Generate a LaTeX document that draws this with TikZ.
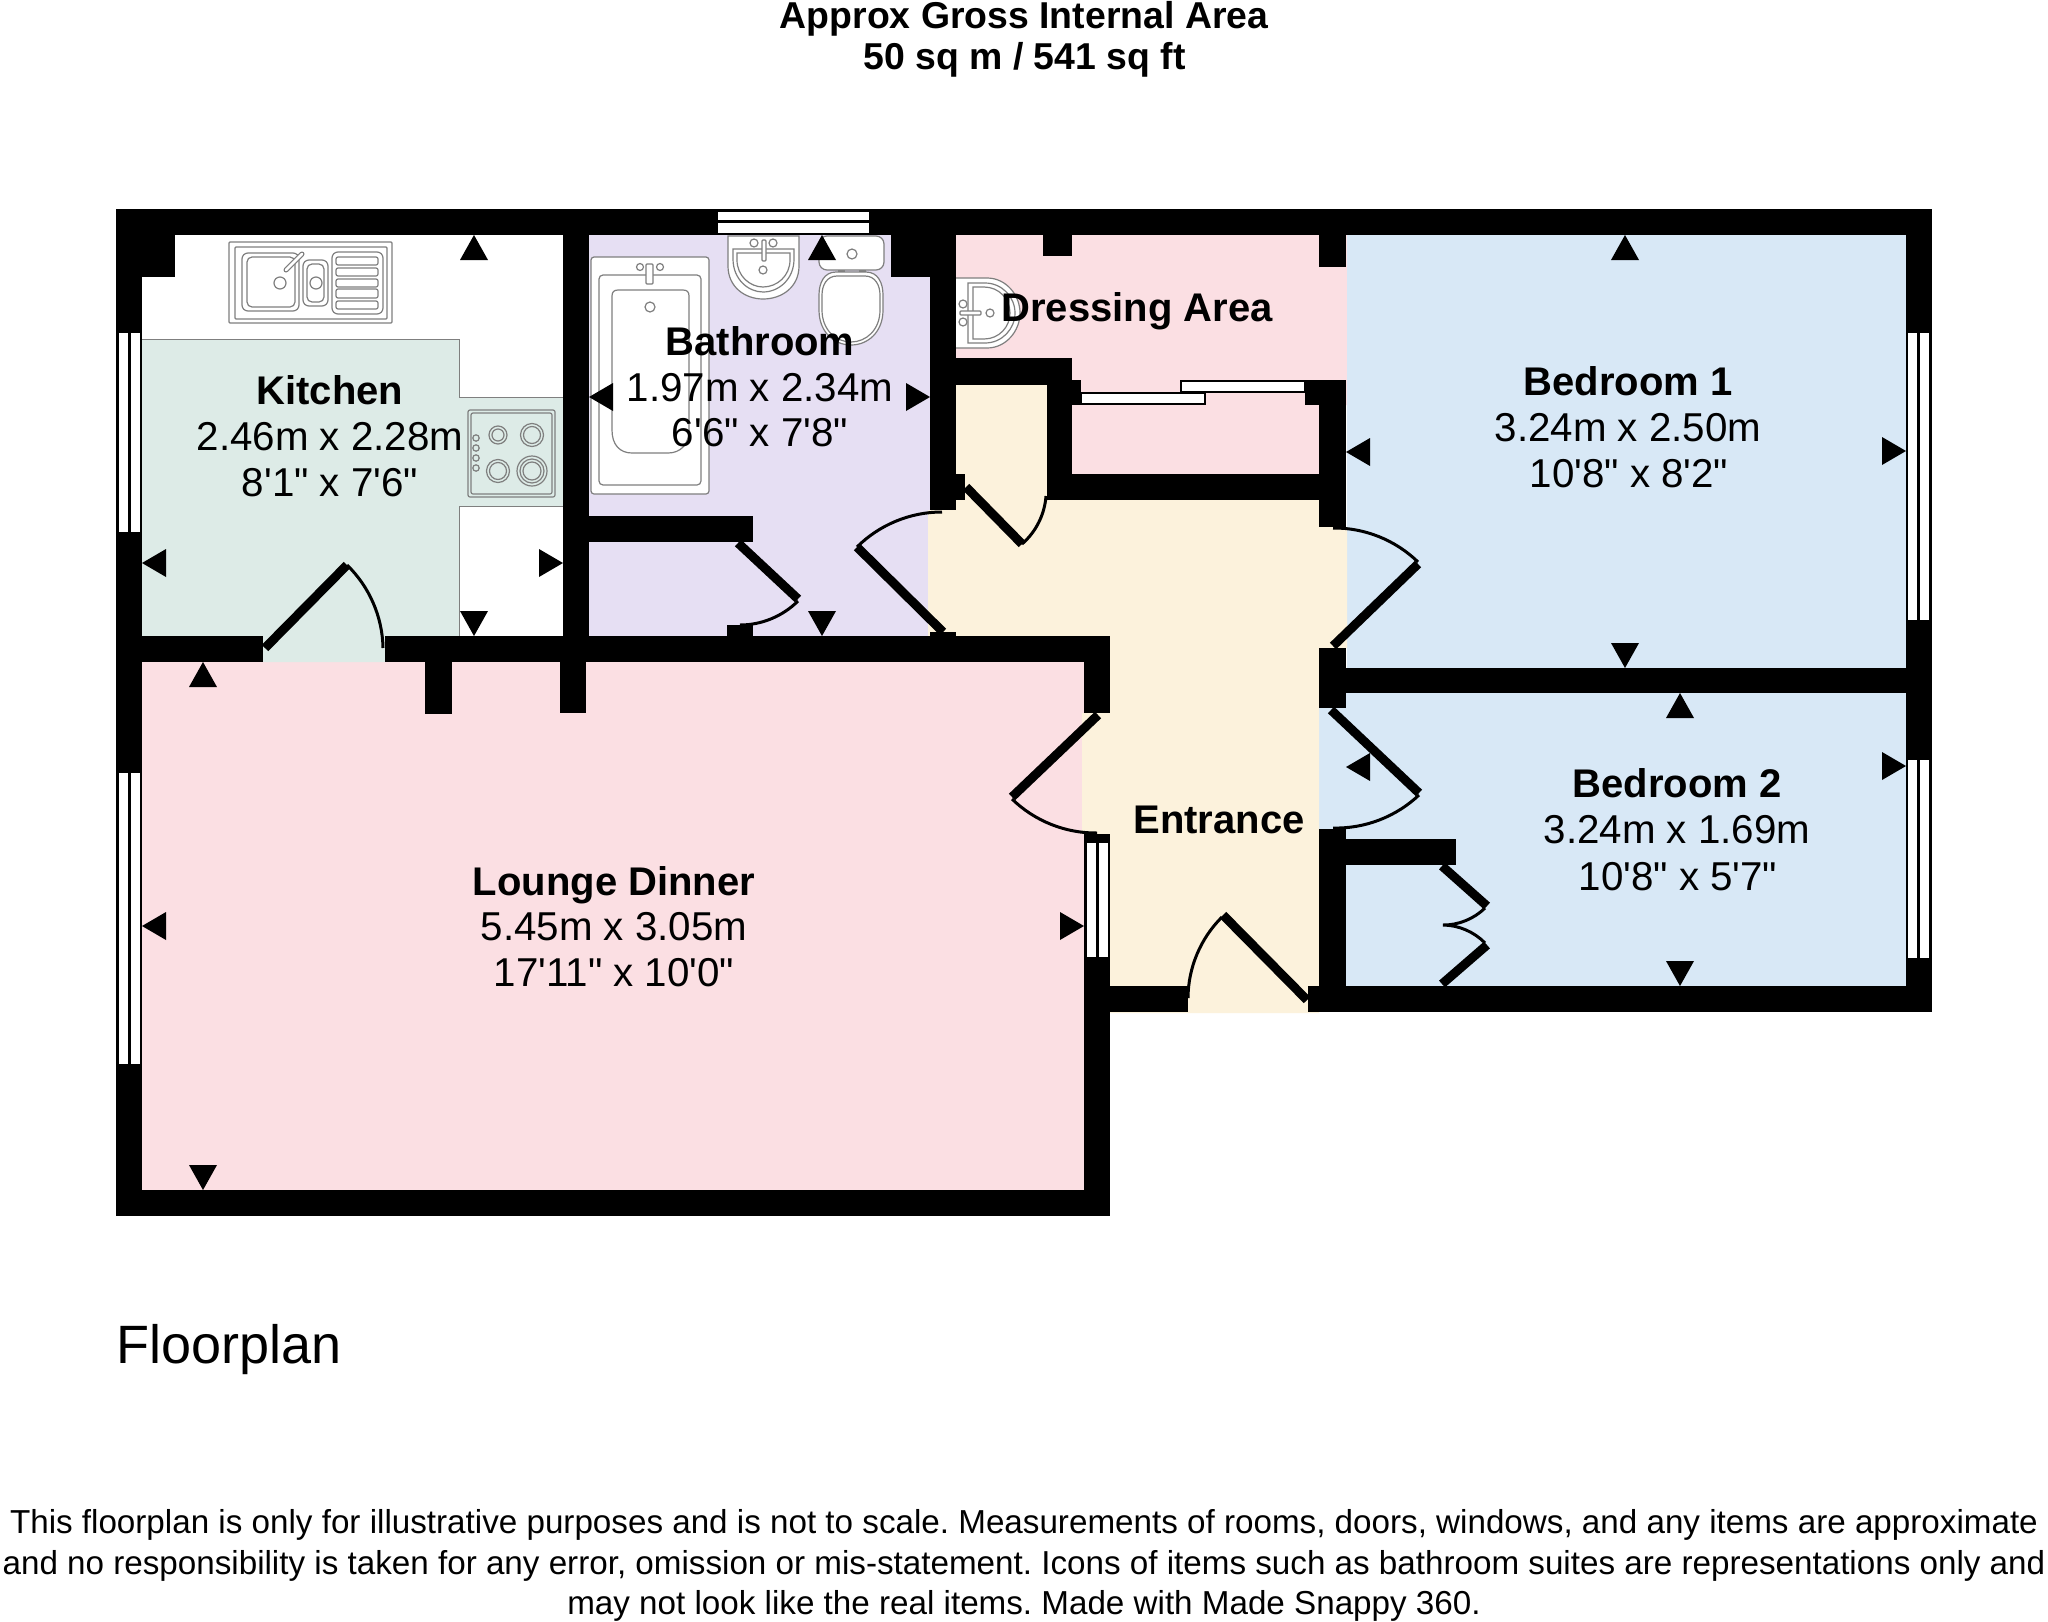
\documentclass[tikz,border=0pt]{standalone}
\usepackage{fontspec}
\newfontfamily\lib{Liberation Sans}[Ligatures=NoCommon]
\definecolor{pinkroom}{HTML}{FBDFE3}
\definecolor{greenroom}{HTML}{DDEBE7}
\definecolor{lilacroom}{HTML}{E6DFF3}
\definecolor{creamroom}{HTML}{FCF2DC}
\definecolor{blueroom}{HTML}{D8E8F6}
\definecolor{fixgray}{HTML}{7F7F7F}
\tikzset{
  plantext/.style={anchor=base,inner sep=0pt,font=\lib\fontsize{40.3}{46}\selectfont},
  roomname/.style={plantext,font=\lib\bfseries\fontsize{40}{46}\selectfont},
  titletext/.style={anchor=base,inner sep=0pt,font=\lib\bfseries\fontsize{37.4}{42}\selectfont},
  foottext/.style={anchor=base,inner sep=0pt,font=\lib\fontsize{33.2}{40}\selectfont},
  doorleaf/.style={line width=9pt,black,line cap=butt},
  doorswing/.style={line width=3pt,black},
  fixture/.style={draw=fixgray,line width=1.2pt,fill=white},
  fixline/.style={draw=fixgray,line width=1.2pt},
}
\newcommand{\arrU}[2]{\fill (#1,#2)--(#1+14,#2+25)--(#1-14,#2+25)--cycle;}
\newcommand{\arrD}[2]{\fill (#1,#2)--(#1+14,#2-25)--(#1-14,#2-25)--cycle;}
\newcommand{\arrL}[2]{\fill (#1,#2)--(#1+24,#2-14)--(#1+24,#2+14)--cycle;}
\newcommand{\arrR}[2]{\fill (#1,#2)--(#1-24,#2-14)--(#1-24,#2+14)--cycle;}
\begin{document}
\frenchspacing
\begin{tikzpicture}[x=1pt,y=-1pt]
\useasboundingbox (0,0) rectangle (2048,1622);
\fill[white] (0,0) rectangle (2048,1622);
% room floors
\fill[pinkroom] (142,662)--(1084,662)--(1084,713)--(1082,713)--(1082,834)--(1084,834)--(1084,1190)--(142,1190)--cycle;
\fill[greenroom] (142,339)--(459,339)--(459,397)--(563,397)--(563,506)--(459,506)--(459,636)--(385,636)--(385,662)--(263,662)--(263,636)--(142,636)--cycle;
\draw[fixgray,line width=1pt] (142,339)--(459,339)--(459,397)--(563,397) (563,506)--(459,506)--(459,636);
\fill[lilacroom] (589,235) rectangle (930,636);
\fill[pinkroom] (956,235)--(1347,235)--(1347,405)--(1319,405)--(1319,474)--(1072,474)--(1072,358)--(956,358)--cycle;
\fill[blueroom] (1347,235) rectangle (1906,668);
\fill[blueroom] (1319,708)--(1346,708)--(1346,693)--(1906,693)--(1906,986)--(1346,986)--(1346,829)--(1319,829)--cycle;
\fill[creamroom] (956,385)--(1047,385)--(1047,500)--(1319,500)--(1319,527)--(1347,527)--(1347,648)--(1319,648)--(1319,1013)--(1110,1013)--(1110,834)--(1082,834)--(1082,713)--(1110,713)--(1110,636)--(928,636)--(928,510)--(956,510)--cycle;
% walls
\foreach \a/\b/\c/\d in {116/209/1932/235, 116/209/142/1216, 116/235/175/277, 116/1190/1110/1216,
  1084/636/1110/713, 1084/834/1110/1216, 142/636/263/662, 385/636/1110/662, 425/662/452/714, 560/662/586/713,
  563/235/589/636, 589/516/753/542, 727/625/753/636, 930/632/956/636, 930/235/956/510, 891/235/930/277,
  956/474/965/500, 1043/235/1072/256, 1319/235/1346/267, 956/358/1072/385, 1047/358/1072/500, 1072/380/1081/405,
  1047/474/1346/500, 1305/380/1346/405, 1319/380/1346/527, 1319/648/1346/708, 1346/668/1932/693, 1319/829/1346/1012,
  1346/839/1456/865, 1308/986/1932/1012, 1110/986/1188/1012, 1906/209/1932/1012}
  {\fill[black] (\a,\b) rectangle (\c,\d);}
% windows
\foreach \a/\b/\c/\d in {119/333/128/532, 131/333/140/532, 119/773/128/1064, 131/773/140/1064,
  718/212/869/220, 718/223/869/233, 1087/843/1096/957, 1099/843/1108/957,
  1908/333/1917/620, 1920/333/1929/620, 1908/760/1917/958, 1920/760/1929/958}
  {\fill[white] (\a,\b) rectangle (\c,\d);}
% sliding wardrobe doors
\draw[black,fill=white,line width=1.5pt] (1081,393) rectangle (1205,404);
\draw[black,fill=white,line width=1.5pt] (1181,381) rectangle (1305,392);
% hinged doors
\coordinate (kp) at (265,648); \coordinate (kt) at (347,565); \coordinate (ke) at (383,648);
\draw[doorleaf] (kp)--(kt); \draw[doorswing] (kt) to[bend left=22.5,looseness=.88] (ke);
\coordinate (cp) at (738,543); \coordinate (ct) at (798,599); \coordinate (ce) at (740,625);
\draw[doorleaf] (cp)--(ct); \draw[doorswing] (798,601) to[bend left=22.5,looseness=.88] (ce);
\coordinate (bp) at (943,632); \coordinate (bt) at (857,547); \coordinate (be) at (942,512);
\draw[doorleaf] (bp)--(bt); \draw[doorswing] (bt) to[bend left=22.5,looseness=.88] (be);
\coordinate (sp) at (966,487); \coordinate (st) at (1022,544); \coordinate (se) at (1046,496);
\draw[doorleaf] (sp)--(st); \draw[doorswing] (st) to[bend right=22.5,looseness=.88] (se);
\coordinate (ap) at (1333,646); \coordinate (at) at (1418,564); \coordinate (ae) at (1333,528);
\draw[doorleaf] (ap)--(at); \draw[doorswing] (ae) to[bend left=22.5,looseness=.88] (1418,562);
\coordinate (dp) at (1331,710); \coordinate (dt) at (1419,793); \coordinate (de) at (1333,828);
\draw[doorleaf] (dp)--(dt); \draw[doorswing] (1419,795) to[bend left=22.5,looseness=.88] (de);
\coordinate (lp) at (1098,715); \coordinate (lt) at (1012,797); \coordinate (le) at (1097,833);
\draw[doorleaf] (lp)--(lt); \draw[doorswing] (1012,799) to[bend right=22.5,looseness=.88] (le);
\coordinate (ep) at (1307,1000); \coordinate (et) at (1223,915); \coordinate (ee) at (1188,998);
\draw[doorleaf] (ep)--(et); \draw[doorswing] (1222,917) to[bend right=22.5,looseness=.88] (ee);
\draw[doorleaf] (1442,866)--(1487,906);
\draw[doorleaf] (1442,984)--(1487,945);
\draw[doorswing] (1485,908) to[bend left=22.5,looseness=.88] (1443,925) to[bend left=22.5,looseness=.88] (1485,943);
% kitchen sink
\draw[fixture,rounded corners=1] (229,242) rectangle (392,323);
\draw[fixline,rounded corners=1] (235,247) rectangle (387,319);
\draw[fixline,rounded corners=6] (242,253) rectangle (299,311);
\draw[fixline,rounded corners=5] (247,257) rectangle (295,307);
\draw[fixline,rounded corners=6] (303,260) rectangle (328,306);
\draw[fixline,rounded corners=5] (307,264) rectangle (324,302);
\draw[fixline,rounded corners=6] (332,252) rectangle (383,314);
\foreach \u/\v in {257/265, 268/276, 279/287, 289/298, 301/309}
  {\draw[fixline,rounded corners=2] (336,\u) rectangle (378,\v);}
\draw[fixline] (280,283) circle[radius=6];
\draw[fixline] (316,283) circle[radius=6];
\draw[fixgray,line width=5pt,line cap=round] (286,270)--(302,254);
\draw[white,line width=2.6pt,line cap=round] (286,270)--(302,254);
% hob
\draw[fixline,rounded corners=2] (468,410) rectangle (555,497);
\draw[fixline,rounded corners=2] (471,413) rectangle (552,494);
\draw[fixline] (498,435) circle[radius=9]; \draw[fixline] (498,435) circle[radius=6];
\draw[fixline] (532,435) circle[radius=11.5]; \draw[fixline] (532,435) circle[radius=8.5];
\draw[fixline] (498,471) circle[radius=11.5]; \draw[fixline] (498,471) circle[radius=8.5];
\draw[fixline] (532,471) circle[radius=15]; \draw[fixline] (532,471) circle[radius=12]; \draw[fixline] (532,471) circle[radius=9];
\foreach \u in {438,448,458,468} {\draw[fixline] (476,\u) circle[radius=3.2];}
% bath
\draw[fixture,rounded corners=3] (591,257) rectangle (709,494);
\draw[fixline,rounded corners=4] (599,275) rectangle (701,485);
\draw[fixline] (618,290)--(683,290) .. controls (687,290) and (689,292) .. (689,296)--(689,430) .. controls (689,445) and (680,453) .. (668,453)--(632,453) .. controls (620,453) and (612,445) .. (612,430)--(612,296) .. controls (612,292) and (614,290) .. (618,290)--cycle;
\draw[fixline] (640,267) circle[radius=3.5]; \draw[fixline] (660,267) circle[radius=3.5];
\draw[fixture,rounded corners=1] (646,264) rectangle (653,284);
\draw[fixline] (650,307) circle[radius=5];
% washbasin in bathroom
\draw[fixture] (728,236)--(728,266) .. controls (728,287) and (745,299) .. (763,299) .. controls (782,299) and (799,287) .. (799,266)--(799,236)--cycle;
\draw[fixline] (733,249)--(733,259) .. controls (733,279) and (748,292) .. (763,292) .. controls (779,292) and (794,279) .. (794,259)--(794,249)--cycle;
\draw[fixline] (737,253)--(737,260) .. controls (737,276) and (750,287) .. (763,287) .. controls (777,287) and (790,276) .. (790,260)--(790,253)--cycle;
\draw[fixture] (754,243) circle[radius=4]; \draw[fixture] (773,243) circle[radius=4];
\draw[fixture,rounded corners=1] (762,240) rectangle (766,261);
\draw[fixline] (763,270) circle[radius=4];
% WC
\fill[fixgray] (838,270) rectangle (845,274);
\fill[fixgray] (859,270) rectangle (866,274);
\draw[fixture,rounded corners=8] (819,236) rectangle (884,270);
\draw[fixture] (836,272)--(866,272) .. controls (878,272) and (883,283) .. (883,295)--(883,310) .. controls (883,332) and (868,345) .. (851,345) .. controls (834,345) and (819,332) .. (819,310)--(819,295) .. controls (819,283) and (824,272) .. (836,272)--cycle;
\draw[fixline] (837,276)--(865,276) .. controls (875,276) and (880,285) .. (880,295)--(880,310) .. controls (880,330) and (866,342) .. (851,342) .. controls (836,342) and (822,330) .. (822,310)--(822,295) .. controls (822,285) and (827,276) .. (837,276)--cycle;
\draw[fixline] (852,254) circle[radius=5];
% washbasin in dressing area
\draw[fixture] (956,278)--(987,278) .. controls (1006,278) and (1020,295) .. (1020,313) .. controls (1020,331) and (1006,348) .. (987,348)--(956,348);
\draw[fixline] (968,283)--(985,283) .. controls (1002,283) and (1015,297) .. (1015,313) .. controls (1015,329) and (1002,343) .. (985,343)--(968,343)--cycle;
\draw[fixline] (973,287)--(984,287) .. controls (999,287) and (1010,299) .. (1010,313) .. controls (1010,327) and (999,339) .. (984,339)--(973,339)--cycle;
\draw[fixture] (963,304) circle[radius=4]; \draw[fixture] (963,322) circle[radius=4];
\draw[fixture,rounded corners=1] (960,311) rectangle (981,315);
\draw[fixline] (990,313) circle[radius=4];
% measurement arrows
\arrU{474}{235} \arrR{563}{563} \arrL{142}{563} \arrD{474}{636}
\arrU{203}{662} \arrL{142}{926} \arrR{1084}{926} \arrD{203}{1190}
\arrU{822}{235} \arrL{589}{397} \arrR{930}{397} \arrD{822}{636}
\arrU{1625}{235} \arrL{1346}{452} \arrR{1906}{451} \arrD{1625}{668}
\arrU{1680}{693} \arrL{1346}{767} \arrR{1906}{766} \arrD{1680}{986}
% texts
\node[titletext] (t1) at (1024,28) {Approx Gross Internal Area};
\node[titletext] (t2) at (1024.5,69) {50 sq m / 541 sq ft};
\node[roomname] (n1) at (330,404) {Kitchen};
\node[plantext] (n1a) at (330,450) {2.46m x 2.28m};
\node[plantext] (n1b) at (330,496) {8'1" x 7'6"};
\node[roomname] (n2) at (760,355) {Bathroom};
\node[plantext] (n2a) at (760,401) {1.97m x 2.34m};
\node[plantext] (n2b) at (760,446) {6'6" x 7'8"};
\node[roomname] (n3) at (1137,321) {Dressing Area};
\node[roomname] (n4) at (1628,395) {Bedroom 1};
\node[plantext] (n4a) at (1628,441) {3.24m x 2.50m};
\node[plantext] (n4b) at (1629,487) {10'8" x 8'2"};
\node[roomname] (n5) at (1677,797) {Bedroom 2};
\node[plantext] (n5a) at (1677,843) {3.24m x 1.69m};
\node[plantext] (n5b) at (1678,890) {10'8" x 5'7"};
\node[roomname] (n6) at (1219,833) {Entrance};
\node[roomname] (n7) at (614,895) {Lounge Dinner};
\node[plantext] (n7a) at (614,940) {5.45m x 3.05m};
\node[plantext] (n7b) at (614,986) {17'11" x 10'0"};
\node[anchor=base west,inner sep=0pt,font=\lib\fontsize{54}{60}\selectfont] (fp) at (116,1363) {Floorplan};
\node[foottext] (f1) at (1024,1533) {This floorplan is only for illustrative purposes and is not to scale. Measurements of rooms, doors, windows, and any items are approximate};
\node[foottext] (f2) at (1024,1574) {and no responsibility is taken for any error, omission or mis-statement. Icons of items such as bathroom suites are representations only and};
\node[foottext] (f3) at (1024,1614) {may not look like the real items. Made with Made Snappy 360.};
\end{tikzpicture}
\end{document}
